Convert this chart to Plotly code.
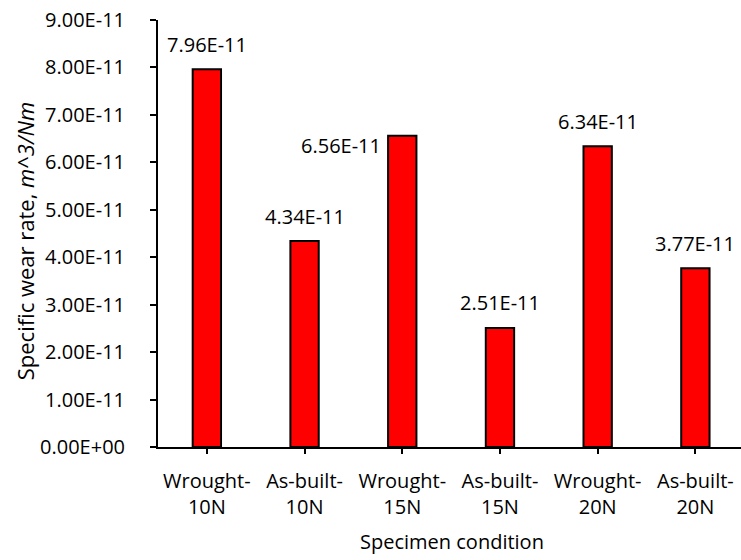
import plotly.graph_objects as go

# Specific wear rate per specimen condition
categories = ["Wrought-<br>10N", "As-built-<br>10N", "Wrought-<br>15N",
              "As-built-<br>15N", "Wrought-<br>20N", "As-built-<br>20N"]
wear_rate = [7.96e-11, 4.34e-11, 6.56e-11, 2.51e-11, 6.34e-11, 3.77e-11]
y_ticks = [0, 1e-11, 2e-11, 3e-11, 4e-11, 5e-11, 6e-11, 7e-11, 8e-11, 9e-11]
y_tick_labels = ["0.00E+00", "1.00E-11", "2.00E-11", "3.00E-11", "4.00E-11",
                 "5.00E-11", "6.00E-11", "7.00E-11", "8.00E-11", "9.00E-11"]

FONT = "Open Sans"
FS = 20

fig = go.Figure()
fig.add_trace(go.Bar(
    x=list(range(len(categories))),
    y=wear_rate,
    width=0.29,
    marker=dict(color="#ff0000", line=dict(color="#000000", width=2)),
    hoverinfo="skip",
))

# value labels above each bar (the third one sits to the left of its bar)
for i, v in enumerate(wear_rate):
    if i == 2:
        fig.add_annotation(x=i, y=v, text=f"{v:.2E}", showarrow=False,
                           xanchor="right", yanchor="middle",
                           xshift=-19, yshift=-10,
                           font=dict(family=FONT, size=FS, color="#000"))
    else:
        fig.add_annotation(x=i, y=v, text=f"{v:.2E}", showarrow=False,
                           xanchor="center", yanchor="middle",
                           yshift=25,
                           font=dict(family=FONT, size=FS, color="#000"))

# axis titles
fig.add_annotation(xref="paper", yref="paper", x=-0.228, y=0.482,
                   text="Specific wear rate, <i>m^3/Nm</i>",
                   textangle=-90, showarrow=False, xanchor="center", yanchor="middle",
                   font=dict(family=FONT, size=22, color="#000"))
fig.add_annotation(xref="paper", yref="paper", x=0.505, y=-0.222,
                   text="Specimen condition", showarrow=False,
                   xanchor="center", yanchor="middle",
                   font=dict(family=FONT, size=FS, color="#000"))

fig.update_layout(
    width=741, height=560,
    margin=dict(l=158, r=0, t=20, b=113),
    paper_bgcolor="white", plot_bgcolor="white",
    showlegend=False,
    font=dict(family=FONT, size=FS, color="#000"),
    xaxis=dict(
        range=[-0.5, 5.467],
        tickmode="array", tickvals=list(range(len(categories))), ticktext=categories,
        ticks="outside", ticklen=5, tickwidth=2, tickcolor="#000",
        showline=True, linecolor="#000", linewidth=2,
        showgrid=False, zeroline=False,
        ticklabelstandoff=10,
        tickfont=dict(family=FONT, size=FS, color="#000"),
    ),
    yaxis=dict(
        range=[0, 9e-11],
        tickmode="array", tickvals=y_ticks, ticktext=y_tick_labels,
        ticks="outside", ticklen=6, tickwidth=2, tickcolor="#000",
        showline=True, linecolor="#000", linewidth=2,
        showgrid=False, zeroline=False,
        ticklabelstandoff=21,
        tickfont=dict(family=FONT, size=FS, color="#000"),
    ),
)

fig.write_html("out.html")
